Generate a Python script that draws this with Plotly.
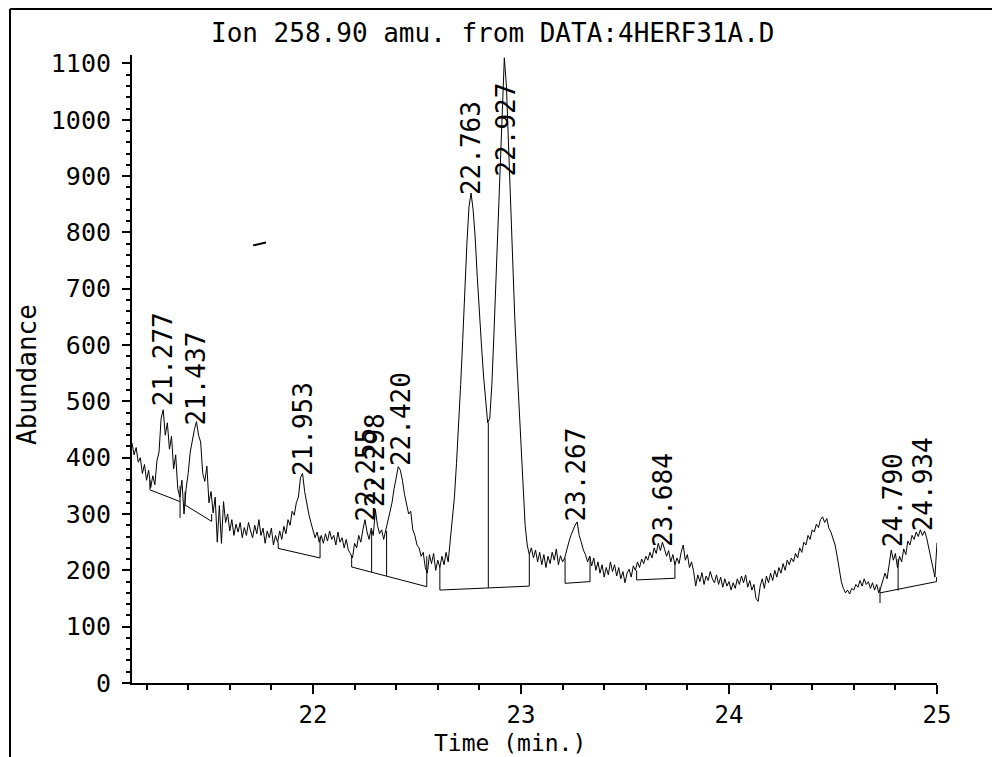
import numpy as np
import plotly.graph_objects as go

# ---------------- data ----------------
# Ion abundance sampled every 0.01 min starting at 21.13 min
abundance = [
    426, 405, 418, 392, 400, 372, 388, 360, 378, 347,   # 21.13-21.22
    368, 352, 395, 410, 470, 485, 440, 462, 415, 438,   # 21.23-21.32
    380, 405, 345, 330, 360, 300, 345, 372, 410, 432,   # 21.33-21.42
    450, 464, 440, 428, 372, 358, 385, 320, 340, 302,   # 21.43-21.52
    330, 250, 315, 248, 322, 285, 300, 270, 290, 262,   # 21.53-21.62
    282, 268, 285, 258, 276, 262, 285, 270, 258, 280,   # 21.63-21.72
    265, 290, 262, 275, 248, 270, 258, 275, 245, 262,   # 21.73-21.82
    250, 270, 255, 278, 265, 290, 280, 305, 298, 320,   # 21.83-21.92
    330, 365, 372, 340, 318, 300, 285, 270, 258, 268,   # 21.93-22.02
    250, 262, 248, 265, 252, 270, 255, 262, 245, 268,   # 22.03-22.12
    250, 258, 240, 255, 236, 230, 222, 248, 240, 262,   # 22.13-22.22
    250, 272, 290, 268, 255, 275, 262, 308, 280, 265,   # 22.23-22.32
    272, 255, 270, 285, 305, 320, 345, 365, 384, 378,   # 22.33-22.42
    360, 335, 318, 300, 305, 272, 262, 245, 240, 225,   # 22.43-22.52
    232, 205, 195, 228, 212, 230, 200, 218, 205, 225,   # 22.53-22.62
    210, 232, 215, 250, 285, 330, 390, 455, 530, 610,   # 22.63-22.72
    700, 780, 845, 870, 840, 790, 720, 650, 600, 545,   # 22.73-22.82
    505, 462, 470, 530, 620, 720, 810, 910, 1000, 1110, # 22.83-22.92
    1060, 960, 830, 730, 650, 570, 500, 420, 340, 280,  # 22.93-23.02
    245, 228, 240, 222, 236, 215, 232, 210, 228, 205,   # 23.03-23.12
    225, 212, 232, 218, 238, 210, 226, 215, 222, 238,   # 23.13-23.22
    250, 262, 272, 280, 286, 262, 250, 236, 228, 215,   # 23.23-23.32
    225, 208, 222, 200, 215, 195, 210, 188, 205, 192,   # 23.33-23.42
    215, 198, 210, 190, 205, 185, 198, 178, 195, 202,   # 23.43-23.52
    188, 208, 200, 215, 205, 220, 212, 225, 218, 232,   # 23.53-23.62
    222, 240, 230, 248, 235, 250, 238, 225, 235, 215,   # 23.63-23.72
    228, 210, 222, 212, 232, 245, 218, 228, 205, 215,   # 23.73-23.82
    198, 172, 192, 180, 196, 175, 190, 182, 198, 185,   # 23.83-23.92
    178, 192, 175, 188, 170, 185, 172, 180, 165, 178,   # 23.93-24.02
    168, 185, 175, 190, 178, 192, 170, 182, 165, 175,   # 24.03-24.12
    150, 145, 172, 185, 168, 190, 178, 195, 182, 200,   # 24.13-24.22
    188, 205, 195, 212, 200, 218, 210, 222, 215, 230,   # 24.23-24.32
    222, 240, 232, 250, 245, 262, 255, 272, 268, 282,   # 24.33-24.42
    276, 290, 295, 285, 292, 275, 268, 255, 245, 225,   # 24.43-24.52
    205, 180, 168, 160, 165, 158, 168, 165, 175, 170,   # 24.53-24.62
    182, 172, 185, 175, 180, 168, 178, 165, 175, 160,   # 24.63-24.72
    170, 182, 195, 185, 212, 236, 218, 230, 205, 225,   # 24.73-24.82
    215, 238, 228, 252, 245, 262, 255, 268, 260, 272,   # 24.83-24.92
    262, 270, 258, 240, 228, 205, 188, 249,             # 24.93-25.00
]
scan_start = 21.13
scan_step = 0.01

# integration baselines (start time, start abundance, end time, end abundance)
base_t0 = [21.216, 21.385, 21.833, 22.186, 22.610, 23.212, 23.556, 24.726]
base_v0 = [343, 316, 239, 206, 165, 177, 183, 160]
base_t1 = [21.361, 21.513, 22.034, 22.547, 23.040, 23.332, 23.740, 24.998]
base_v1 = [322, 287, 222, 171, 172, 180, 186, 180]

# vertical drop lines (time, top abundance, bottom abundance)
drop_t = [21.216, 21.361, 21.385, 21.513, 21.833, 22.034, 22.186, 22.282, 22.354,
          22.547, 22.610, 22.843, 23.040, 23.212, 23.332, 23.556, 23.740, 24.726,
          24.813, 24.998]
drop_top = [360, 350, 340, 300, 250, 260, 225, 270, 270,
            225, 205, 462, 228, 222, 225, 200, 212, 170,
            220, 188]
drop_bot = [343, 293, 316, 287, 239, 222, 206, 197, 190,
            171, 165, 169, 172, 177, 180, 183, 186, 142,
            164, 180]

# peak retention-time labels
peak_labels = ["21.277", "21.437", "21.953", "22.255", "22.298", "22.420",
               "22.763", "22.927", "23.267", "23.684", "24.790", "24.934"]
peak_t = [21.277, 21.437, 21.953, 22.255, 22.298, 22.420,
          22.763, 22.927, 23.267, 23.684, 24.790, 24.934]
peak_label_v = [489, 455, 366, 285, 310, 384, 864, 897, 284, 240, 240, 268]

# small stray pen mark on the original plot
stray_t = [21.712, 21.774]
stray_v = [777, 782]

x_ticks = [22, 23, 24, 25]
y_ticks = list(range(0, 1101, 100))

title_text = "Ion 258.90 amu. from DATA:4HERF31A.D"
x_title = "Time (min.)"
y_title = "Abundance"

# ---------------- figure ----------------
FONT = "DejaVu Sans Mono"
FS = 26

times = np.round(scan_start + scan_step * np.arange(len(abundance)), 3)

fig = go.Figure()
fig.add_trace(go.Scatter(x=times, y=abundance, mode="lines",
                         line=dict(color="black", width=1), showlegend=False,
                         hoverinfo="skip"))

bx, by = [], []
for a, b, c, d in zip(base_t0, base_v0, base_t1, base_v1):
    bx += [a, c, None]
    by += [b, d, None]
fig.add_trace(go.Scatter(x=bx, y=by, mode="lines",
                         line=dict(color="black", width=1), showlegend=False))

dx, dy = [], []
for t, top, bot in zip(drop_t, drop_top, drop_bot):
    dx += [t, t, None]
    dy += [top, bot, None]
fig.add_trace(go.Scatter(x=dx, y=dy, mode="lines",
                         line=dict(color="black", width=1), showlegend=False))

fig.add_trace(go.Scatter(x=stray_t, y=stray_v, mode="lines",
                         line=dict(color="black", width=2), showlegend=False))

for lab, t, v in zip(peak_labels, peak_t, peak_label_v):
    fig.add_annotation(x=t, y=v, xref="x", yref="y", text=lab, textangle=-90,
                       showarrow=False, xanchor="center", yanchor="bottom",
                       borderpad=0,
                       font=dict(family=FONT, size=FS, color="black"))

# The page has an 8 px body margin; the figure is sized so it ends at the window edge.
OFF = 8
W, H = 1000 - OFF, 757 - OFF
# plot area in page pixels: x 132..937, y 55..683
L, R, T, B = 132 - OFF, 1000 - 937, 55 - OFF, 757 - 683
pw, ph = W - L - R, H - T - B

def px2paper_x(px):
    return (px - OFF - L) / pw

def px2paper_y(py):
    return (H - B - (py - OFF)) / ph

fig.add_annotation(x=px2paper_x(493), y=px2paper_y(33), xref="paper", yref="paper",
                   text=title_text, showarrow=False, xanchor="center", yanchor="middle",
                   font=dict(family=FONT, size=FS, color="black"))
fig.add_annotation(x=px2paper_x(510), y=px2paper_y(743), xref="paper", yref="paper",
                   text=x_title, showarrow=False, xanchor="center", yanchor="middle",
                   borderpad=0,
                   font=dict(family=FONT, size=23, color="black"))
fig.add_annotation(x=px2paper_x(27), y=px2paper_y(375), xref="paper", yref="paper",
                   text=y_title, showarrow=False, textangle=-90,
                   xanchor="center", yanchor="middle",
                   font=dict(family=FONT, size=FS, color="black"))

# outer frame (top and left edges)
fig.add_shape(type="line", xref="paper", yref="paper",
              x0=px2paper_x(10), y0=px2paper_y(9), x1=px2paper_x(1000), y1=px2paper_y(9),
              line=dict(color="black", width=2))
fig.add_shape(type="line", xref="paper", yref="paper",
              x0=px2paper_x(10), y0=px2paper_y(9), x1=px2paper_x(10), y1=px2paper_y(757),
              line=dict(color="black", width=2))

fig.update_layout(
    width=W, height=H,
    margin=dict(l=L, r=R, t=T, b=B, pad=0),
    paper_bgcolor="white", plot_bgcolor="white",
    showlegend=False,
    font=dict(family=FONT, size=FS, color="black"),
)
fig.update_xaxes(
    range=[21.13, 25.0], showgrid=False, zeroline=False,
    showline=True, linecolor="black", linewidth=2,
    tickmode="array", tickvals=x_ticks, ticktext=[str(v) for v in x_ticks],
    ticks="outside", ticklen=9, tickwidth=1.5, tickcolor="black",
    ticklabelstandoff=0,
    tickfont=dict(family=FONT, size=24, color="black"),
    minor=dict(dtick=0.2, tick0=21.2, ticks="outside", ticklen=5,
               tickwidth=1.5, tickcolor="black", showgrid=False),
)
fig.update_yaxes(
    range=[0, 1115], showgrid=False, zeroline=False,
    showline=True, linecolor="black", linewidth=2,
    tickmode="array", tickvals=y_ticks, ticktext=[str(v) for v in y_ticks],
    ticks="outside", ticklen=8, tickwidth=1.5, tickcolor="black",
    ticklabelstandoff=6,
    tickfont=dict(family=FONT, size=25, color="black"),
    minor=dict(dtick=20, tick0=0, ticks="outside", ticklen=4,
               tickwidth=1.5, tickcolor="black", showgrid=False),
)

fig.write_html("out.html")
